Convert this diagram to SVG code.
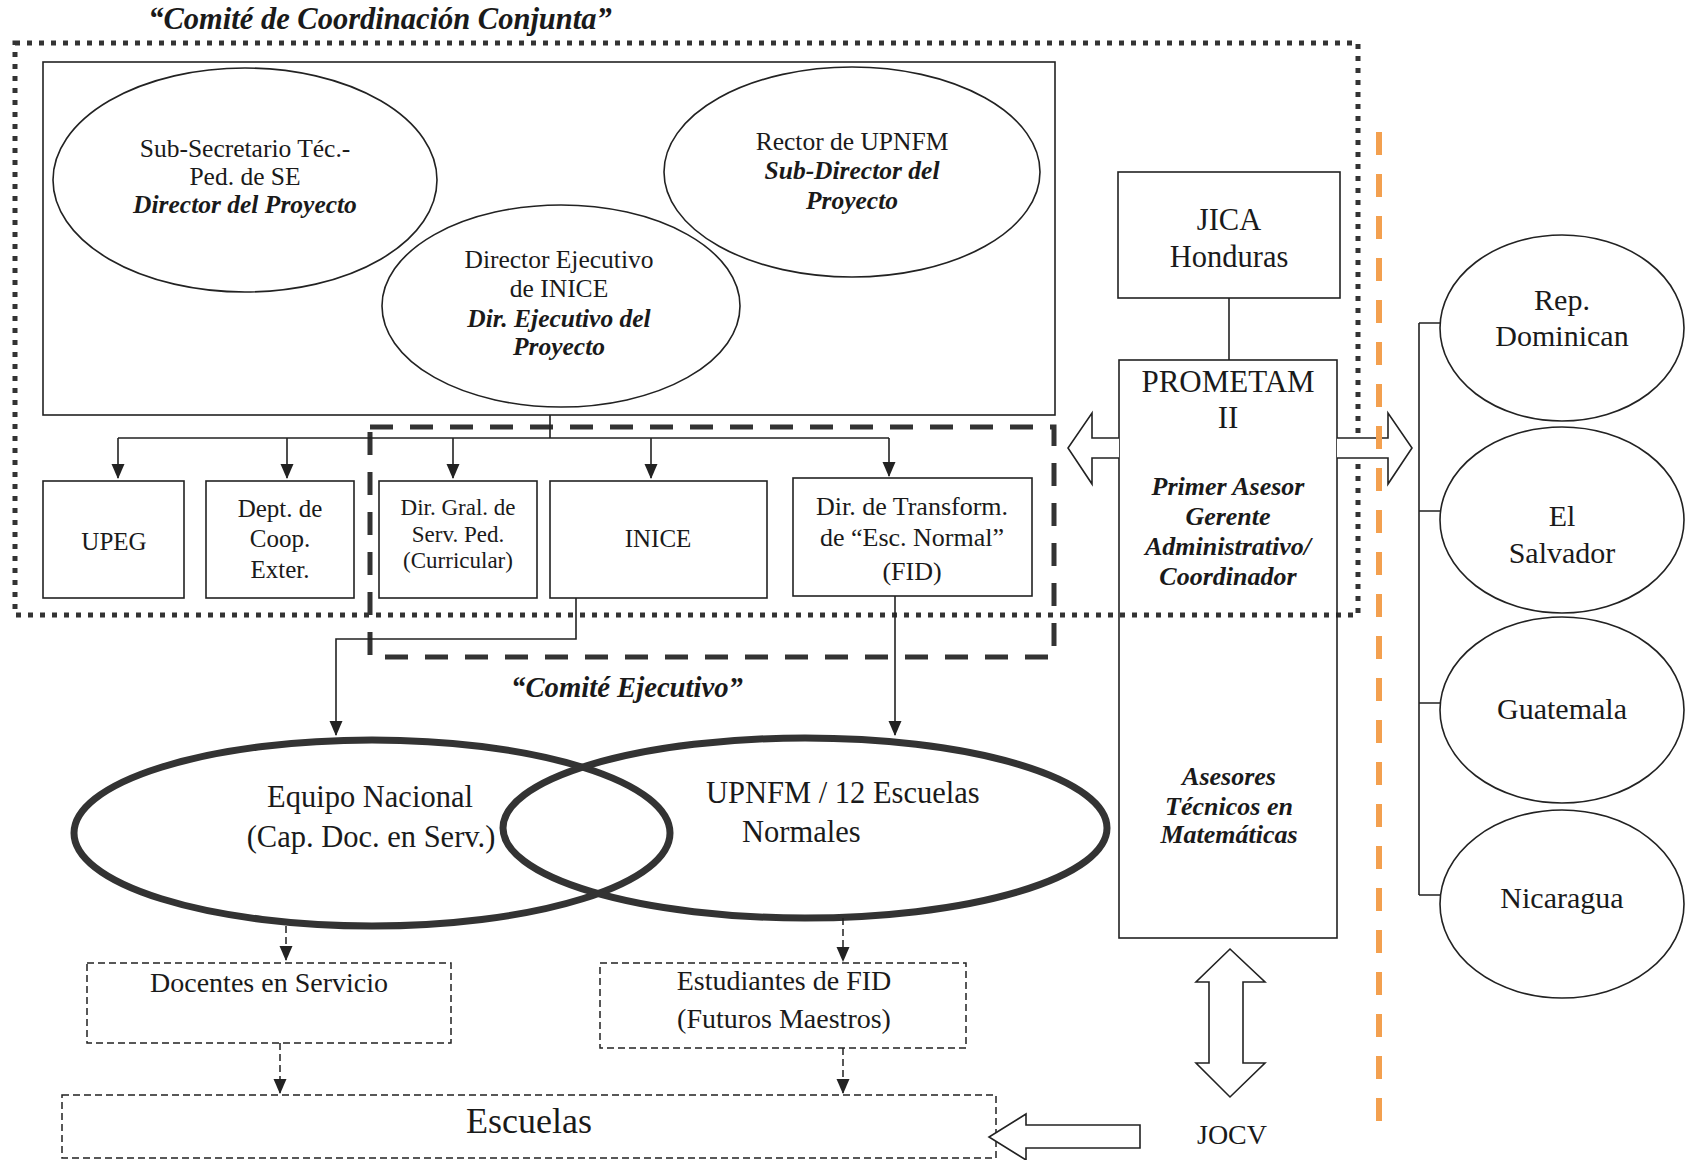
<svg xmlns="http://www.w3.org/2000/svg" width="1686" height="1160" viewBox="0 0 1686 1160">
<defs>
<marker id="ah" markerUnits="userSpaceOnUse" markerWidth="16" markerHeight="14" refX="14" refY="6.5" orient="auto">
<path d="M0,0 L15,6.5 L0,13 Z" fill="#222"/>
</marker>
<style>
.t{font-family:"Liberation Serif","Times New Roman",serif;fill:#1a1a1a;text-anchor:middle}
.bi{font-weight:bold;font-style:italic}
.ln{fill:none;stroke:#222;stroke-width:1.6}
.el{fill:none;stroke:#222;stroke-width:1.6}
.big{fill:none;stroke:#333;stroke-width:7}
.dot{fill:none;stroke:#333;stroke-width:5;stroke-dasharray:5 7}
.dash{fill:none;stroke:#333;stroke-width:5;stroke-dasharray:23 17}
.tdash{fill:none;stroke:#222;stroke-width:1.5;stroke-dasharray:7 4}
.blk{fill:#fff;stroke:#222;stroke-width:1.6}
</style>
</defs>
<rect width="1686" height="1160" fill="#fff"/>

<g id="comite-coordinacion">
<rect class="dot" x="15" y="43" width="1343" height="572"/>
<text class="t bi" x="380" y="29" font-size="30.5">“Comité de Coordinación Conjunta”</text>
</g>

<g id="comite-ejecutivo">
<rect class="dash" x="370" y="427" width="684" height="230"/>
<text class="t bi" x="627" y="697" font-size="28.7">“Comité Ejecutivo”</text>
</g>

<g id="directores">
<rect class="ln" x="43" y="62" width="1012" height="353"/>
</g>

<g id="subsecretario">
<ellipse class="el" cx="245" cy="180" rx="192" ry="112"/>
<text class="t" x="245" y="157" font-size="25.5">Sub-Secretario Téc.-</text>
<text class="t" x="245" y="185" font-size="25.5">Ped. de SE</text>
<text class="t bi" x="245" y="213" font-size="25.5">Director del Proyecto</text>
</g>

<g id="rector">
<ellipse class="el" cx="852" cy="172" rx="188" ry="105"/>
<text class="t" x="852" y="150" font-size="25.5">Rector de UPNFM</text>
<text class="t bi" x="852" y="179" font-size="25.5">Sub-Director del</text>
<text class="t bi" x="852" y="209" font-size="25.5">Proyecto</text>
</g>

<g id="director-ejecutivo">
<ellipse class="el" cx="561" cy="306" rx="179" ry="101"/>
<text class="t" x="559" y="268" font-size="25.5">Director Ejecutivo</text>
<text class="t" x="559" y="297" font-size="25.5">de INICE</text>
<text class="t bi" x="559" y="327" font-size="25.5">Dir. Ejecutivo del</text>
<text class="t bi" x="559" y="355" font-size="25.5">Proyecto</text>
</g>

<g id="upeg">
<rect class="ln" x="43" y="481" width="141" height="117"/>
<text class="t" x="114" y="550" font-size="25">UPEG</text>
</g>
<g id="dept-coop">
<rect class="ln" x="206" y="481" width="148" height="117"/>
<text class="t" x="280" y="517" font-size="25">Dept. de</text>
<text class="t" x="280" y="547" font-size="25">Coop.</text>
<text class="t" x="280" y="578" font-size="25">Exter.</text>
</g>
<g id="dir-gral">
<rect class="ln" x="379" y="481" width="158" height="117"/>
<text class="t" x="458" y="515" font-size="23">Dir. Gral. de</text>
<text class="t" x="458" y="542" font-size="23">Serv. Ped.</text>
<text class="t" x="458" y="568" font-size="23">(Curricular)</text>
</g>
<g id="inice">
<rect class="ln" x="550" y="481" width="217" height="117"/>
<text class="t" x="658" y="547" font-size="25">INICE</text>
</g>
<g id="dir-transform">
<rect class="ln" x="793" y="478" width="239" height="118"/>
<text class="t" x="912" y="515" font-size="26">Dir. de Transform.</text>
<text class="t" x="912" y="546" font-size="26">de “Esc. Normal”</text>
<text class="t" x="912" y="580" font-size="26">(FID)</text>
</g>

<g id="equipo-nacional">
<ellipse class="big" cx="372" cy="833" rx="298" ry="93"/>
<text class="t" x="370" y="807" font-size="30.5">Equipo Nacional</text>
<text class="t" x="371" y="847" font-size="30.5">(Cap. Doc. en Serv.)</text>
</g>
<g id="upnfm-escuelas">
<ellipse class="big" cx="805" cy="828" rx="302" ry="90"/>
<text class="t" x="706" y="803" font-size="30.5" style="text-anchor:start">UPNFM / 12 Escuelas</text>
<text class="t" x="742" y="842" font-size="30.5" style="text-anchor:start">Normales</text>
</g>

<g id="docentes">
<rect class="tdash" x="87" y="963" width="364" height="80"/>
<text class="t" x="269" y="992" font-size="28">Docentes en Servicio</text>
</g>
<g id="estudiantes">
<rect class="tdash" x="600" y="963" width="366" height="85"/>
<text class="t" x="784" y="990" font-size="28">Estudiantes de FID</text>
<text class="t" x="784" y="1028" font-size="28">(Futuros Maestros)</text>
</g>
<g id="escuelas">
<rect class="tdash" x="62" y="1095" width="934" height="63"/>
<text class="t" x="529" y="1133" font-size="36">Escuelas</text>
</g>

<g id="jica">
<rect class="ln" x="1118" y="172" width="222" height="126"/>
<text class="t" x="1229" y="230" font-size="30.5">JICA</text>
<text class="t" x="1229" y="267" font-size="30.5">Honduras</text>
</g>
<g id="prometam">
<rect class="ln" x="1119" y="360" width="218" height="578"/>
<text class="t" x="1228" y="392" font-size="31">PROMETAM</text>
<text class="t" x="1228" y="428" font-size="31">II</text>
<text class="t bi" x="1228" y="495" font-size="26">Primer Asesor</text>
<text class="t bi" x="1228" y="525" font-size="26">Gerente</text>
<text class="t bi" x="1228" y="555" font-size="26">Administrativo/</text>
<text class="t bi" x="1228" y="585" font-size="26">Coordinador</text>
<text class="t bi" x="1229" y="785" font-size="26">Asesores</text>
<text class="t bi" x="1229" y="815" font-size="26">Técnicos en</text>
<text class="t bi" x="1229" y="843" font-size="26">Matemáticas</text>
</g>
<g id="jocv">
<text class="t" x="1232" y="1144" font-size="28">JOCV</text>
</g>

<g id="rep-dominicana">
<ellipse class="el" cx="1562" cy="328" rx="122" ry="93"/>
<text class="t" x="1562" y="310" font-size="30">Rep.</text>
<text class="t" x="1562" y="346" font-size="30">Dominican</text>
</g>
<g id="el-salvador">
<ellipse class="el" cx="1562" cy="520" rx="122" ry="93"/>
<text class="t" x="1562" y="526" font-size="30">El</text>
<text class="t" x="1562" y="563" font-size="30">Salvador</text>
</g>
<g id="guatemala">
<ellipse class="el" cx="1562" cy="710" rx="122" ry="93"/>
<text class="t" x="1562" y="719" font-size="30">Guatemala</text>
</g>
<g id="nicaragua">
<ellipse class="el" cx="1562" cy="904" rx="122" ry="94"/>
<text class="t" x="1562" y="908" font-size="30">Nicaragua</text>
</g>

<g id="connectors">
<path class="ln" d="M550,415 V438 M118,438 H889"/>
<path class="ln" d="M118,438 V478" marker-end="url(#ah)"/>
<path class="ln" d="M287,438 V478" marker-end="url(#ah)"/>
<path class="ln" d="M453,438 V478" marker-end="url(#ah)"/>
<path class="ln" d="M651,438 V478" marker-end="url(#ah)"/>
<path class="ln" d="M889,438 V476" marker-end="url(#ah)"/>
<path class="ln" d="M576,598 V639 H336 V735" marker-end="url(#ah)"/>
<path class="ln" d="M895,596 V735" marker-end="url(#ah)"/>
<path class="tdash" d="M286,926 V960" marker-end="url(#ah)"/>
<path class="tdash" d="M280,1043 V1093" marker-end="url(#ah)"/>
<path class="tdash" d="M843,918 V961" marker-end="url(#ah)"/>
<path class="tdash" d="M843,1048 V1093" marker-end="url(#ah)"/>
<path class="ln" d="M1229,298 V360"/>
<path class="ln" d="M1419,323 V895 M1419,323 H1441 M1419,511 H1441 M1419,703 H1441 M1419,895 H1441"/>
<path class="blk" d="M1119,438 H1092 V413 L1068,448 L1092,484 V458 H1119"/>
<path class="blk" d="M1337,438 H1388 V413 L1412,448 L1388,484 V458 H1337"/>
<path class="blk" d="M1140,1125 H1026 V1114 L989,1137 L1026,1160 V1148 H1140 Z"/>
<path class="blk" d="M1230,949 L1265,982 H1243 V1063 H1265 L1230,1097 L1196,1063 H1209 V982 H1196 Z"/>
<path fill="none" stroke="#F3A04F" stroke-width="6" stroke-dasharray="23 19" d="M1379,132 V1137"/>
</g>
</svg>
